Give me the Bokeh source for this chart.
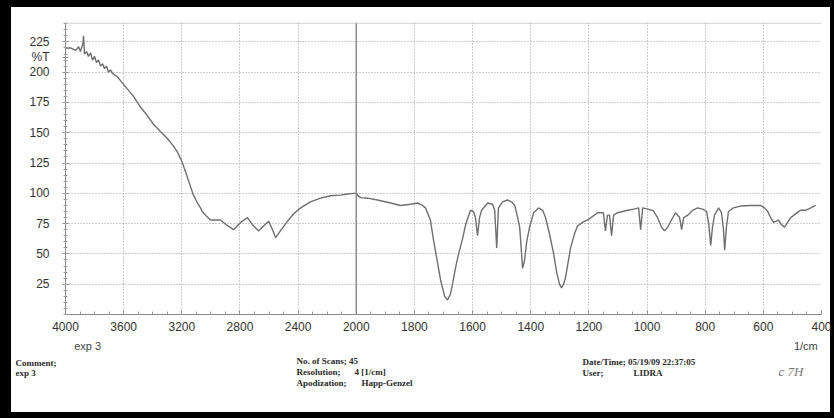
import numpy as np
from bokeh.plotting import figure
from bokeh.layouts import column
from bokeh.models import FixedTicker, Span, Range1d, LinearAxis
from bokeh.embed import file_html
from bokeh.resources import INLINE

# ---- data (wavenumber in 1/cm, %T) ----
wavenumber = [4000, 3966, 3931, 3910, 3897, 3880, 3876, 3869, 3855, 3842, 3828, 3814,
              3800, 3787, 3773, 3759, 3745, 3732, 3718, 3704, 3690, 3677, 3642, 3608,
              3574, 3532, 3484, 3436, 3395, 3347, 3298, 3257,
              3230, 3202, 3175, 3147, 3120, 3092, 3071, 3060, 3037, 3003, 2968, 2934,
              2893, 2844, 2796, 2748, 2713, 2672, 2638, 2603, 2576, 2555, 2528, 2473,
              2432, 2383, 2315, 2246, 2177, 2108, 2060, 2019, 2000,
              1996, 1985, 1961, 1927, 1882, 1848, 1813, 1789, 1772, 1762, 1745, 1734,
              1720, 1710, 1696, 1686, 1676, 1669, 1659, 1648, 1634, 1624, 1607, 1597,
              1590, 1583, 1576, 1569, 1548, 1531, 1524, 1517, 1511, 1497, 1480, 1466,
              1455, 1445, 1438, 1435, 1428, 1421, 1414, 1404, 1390, 1373, 1359, 1349,
              1335, 1321, 1311, 1301, 1294, 1287, 1280, 1270, 1263, 1249, 1239, 1222,
              1205, 1187, 1170, 1156, 1150, 1143, 1136, 1129, 1122, 1115, 1101, 1084,
              1067, 1046, 1029, 1022, 1015, 998, 978, 964, 950, 940, 929, 916, 902,
              888, 881, 874, 860, 843, 826, 809, 795, 788, 781, 775, 768, 754, 744,
              737, 733, 727, 720, 703, 679, 644, 610, 596, 586, 575, 565, 555, 548,
              537, 527, 517, 506, 489, 472, 455, 437, 420]
transmittance = [220, 220, 218, 221, 217, 224, 230, 215, 217, 213, 216, 210,
                 213, 208, 210, 205, 207, 203, 205, 200, 202, 199, 196, 191,
                 186, 180, 171, 164, 157, 151, 145, 139,
                 134, 127, 118, 108, 98.5, 92, 88, 85, 82, 78, 78, 78,
                 74, 70, 76, 80, 74, 69, 73, 77, 70, 63.5, 68, 77,
                 83, 88, 93, 96, 98, 98.5, 99.5, 100, 100,
                 98.5, 96.5, 96, 94.5, 92, 90, 91, 92, 90, 88, 78, 61,
                 42, 28.5, 15, 12, 17, 25, 38, 50, 63, 74, 86, 85,
                 80, 65, 80, 86, 92, 91, 86, 55, 88, 93, 94.5, 93,
                 90, 80, 72, 62, 38, 45, 60, 72, 84, 88, 86, 80,
                 66, 50, 35, 25, 22, 25, 31, 45, 55, 67, 73, 76,
                 78, 81, 84, 84, 84, 69, 82, 82, 65, 82, 84, 85,
                 86, 87, 88, 70, 88, 87, 85.5, 80, 72, 69, 72, 78, 84,
                 80, 70, 80, 82, 86, 88, 87, 85, 75, 57, 72, 82, 88, 84,
                 70, 53, 72, 85, 88, 89.5, 90, 90, 88, 85.5, 80, 76, 77, 78,
                 74, 72, 76, 80, 83, 86, 86, 88, 90]

tick_wavenumbers = [4000, 3600, 3200, 2800, 2400, 2000, 1800, 1600, 1400, 1200, 1000, 800, 600, 400]
tick_labels = ["4000", "3600", "3200", "2800", "2400", "2000", "1800", "1600",
               "1400", "1200", "1000", "800", "600", "400"]
y_ticks = [25, 50, 75, 100, 125, 150, 175, 200, 225]
y_unit_label = "%T"
x_unit_label = "1/cm"
sample_label = "exp 3"

# footer text of the instrument printout
footer_text = ["Comment;", "exp 3", "No. of Scans; 45", "Resolution;", "4 [1/cm]",
               "Apodization;", "Happ-Genzel", "Date/Time; 05/19/09 22:37:05",
               "User;", "LIDRA"]
footer_x = [15, 15, 296, 296, 354, 296, 361, 582, 582, 633]
footer_y = [362, 372, 360, 371, 371, 382, 382, 361, 372, 372]
note_text = ["c 7H"]


def to_axis(wn):
    """Instrument's split abscissa: 400 1/cm per division above 2000, 200 below."""
    wn = np.asarray(wn, dtype=float)
    return np.where(wn >= 2000, (4000 - wn) / 400.0, 5 + (2000 - wn) / 200.0)


xu = to_axis(wavenumber)
tick_pos = [float(v) for v in to_axis(tick_wavenumbers)]

W = 834
p = figure(width=W, height=354, output_backend="svg", toolbar_location=None,
           x_range=Range1d(0, 13), y_range=Range1d(0, 241),
           min_border_left=65, min_border_right=13, min_border_top=22, min_border_bottom=36)
p.frame_align = False
p.outline_line_color = None
p.background_fill_color = "white"
p.border_fill_color = None
p.styles = {"background-color": "white",
            "box-shadow": "inset 11px 7px 0 0 black, inset -4px 0 0 0 black"}

p.line(xu, transmittance, line_color="#6f6f6f", line_width=1.4)

# axes
xa = p.xaxis[0]
ya = p.yaxis[0]
xa.ticker = FixedTicker(ticks=tick_pos, minor_ticks=list(np.arange(0, 13.01, 0.25)))
xa.major_label_overrides = {t: l for t, l in zip(tick_pos, tick_labels)}
ya.ticker = FixedTicker(ticks=y_ticks + [212.5], minor_ticks=list(range(0, 241, 5)))
ya.major_label_overrides = {212.5: y_unit_label}

for ax in (xa, ya):
    ax.axis_line_color = "#8a8a8a"
    ax.major_tick_line_color = "#8a8a8a"
    ax.minor_tick_line_color = "#9a9a9a"
    ax.major_label_text_font = "Liberation Sans"
    ax.major_label_text_font_size = "12px"
    ax.major_label_text_color = "#333333"

xa.major_tick_in = 4
xa.major_tick_out = 0
xa.minor_tick_in = 3
xa.minor_tick_out = 0
xa.major_label_standoff = 7

ya.major_tick_in = 3
ya.major_tick_out = 3
ya.minor_tick_in = 2
ya.minor_tick_out = 2
ya.major_label_standoff = 13

# second row under the x axis: sample name and unit
lab_pos = [0.38, 12.73]
xa2 = LinearAxis(ticker=FixedTicker(ticks=lab_pos, minor_ticks=[]),
                 major_label_overrides={lab_pos[0]: sample_label, lab_pos[1]: x_unit_label},
                 axis_line_color=None, major_tick_line_color=None, minor_tick_line_color=None,
                 major_label_standoff=0, major_label_text_font="Liberation Sans",
                 major_label_text_font_size="11px", major_label_text_color="#444444")
p.add_layout(xa2, "below")

# grid
p.xgrid.ticker = FixedTicker(ticks=tick_pos)
p.ygrid.ticker = FixedTicker(ticks=y_ticks)
p.xgrid.grid_line_color = "#9a9a9a"
p.xgrid.grid_line_dash = "1 2"
p.ygrid.grid_line_color = "#9a9a9a"
p.ygrid.grid_line_dash = "1 2"

p.add_layout(Span(location=5, dimension="height", line_color="#8c8c8c", line_width=1.5))
p.add_layout(Span(location=240.5, dimension="width", line_color="#c4c4c4", line_width=1))

# footer panel (coordinates = page pixels)
f = figure(width=W, height=64, output_backend="svg", toolbar_location=None,
           x_range=Range1d(0, W), y_range=Range1d(418, 354),
           x_axis_location=None, y_axis_location=None,
           min_border_left=0, min_border_right=0, min_border_top=0, min_border_bottom=0)
f.frame_align = False
f.grid.visible = False
f.outline_line_color = None
f.background_fill_color = None
f.border_fill_color = None
f.styles = {"background-color": "white",
            "box-shadow": "inset 11px 0 0 0 black, inset -4px -6px 0 0 black"}
f.text(x=footer_x, y=footer_y, text=footer_text, text_font="Liberation Serif",
       text_font_size="9px", text_font_style="bold", text_color="#2a2a2a",
       text_baseline="middle", text_align="left")
f.text(x=[778], y=[371], text=note_text, text_font="Liberation Serif",
       text_font_size="13px", text_font_style="italic", text_color="#777777",
       text_baseline="middle", text_align="left")

layout = column(p, f, spacing=0)
open("out.html", "w").write(file_html(layout, INLINE))
